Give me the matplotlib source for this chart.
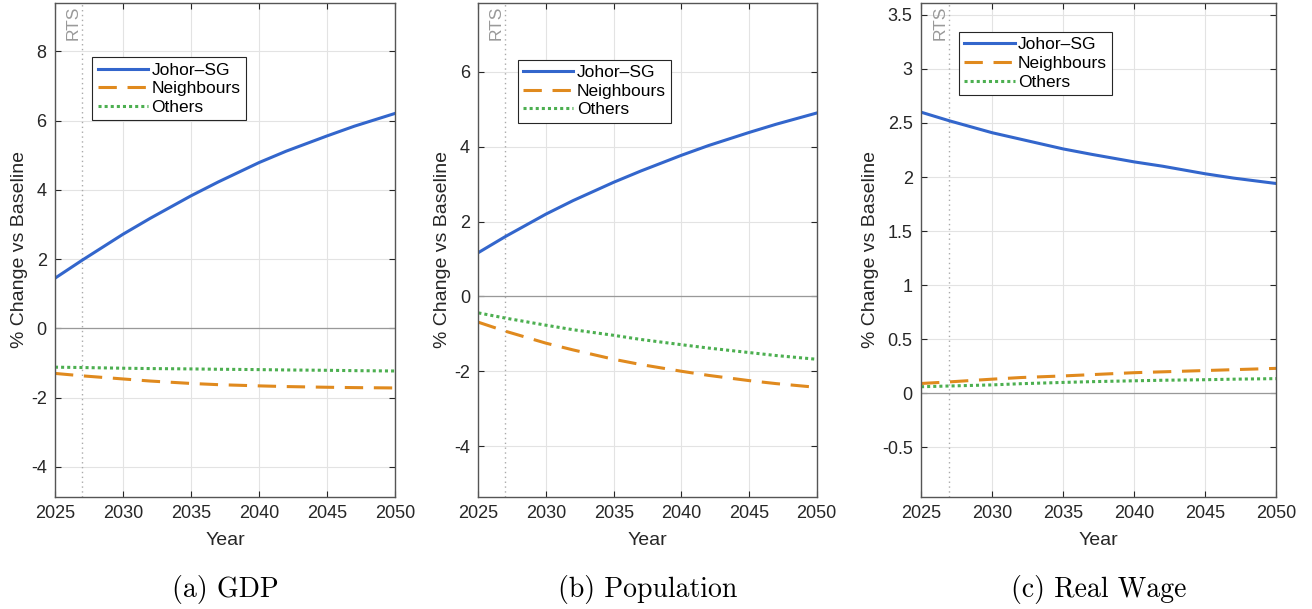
import matplotlib
matplotlib.use("Agg")
import matplotlib.pyplot as plt

plt.rcParams['font.family'] = ['Liberation Sans', 'DejaVu Sans']

years = [2025, 2027, 2030, 2032, 2035, 2037, 2040, 2042, 2045, 2047, 2050]
series_names = ["Johor\u2013SG", "Neighbours", "Others"]
rts_year = 2027

gdp_johor = [1.45, 1.97, 2.72, 3.18, 3.83, 4.23, 4.79, 5.12, 5.56, 5.84, 6.21]
gdp_neigh = [-1.30, -1.37, -1.46, -1.52, -1.59, -1.625, -1.66, -1.68, -1.70, -1.71, -1.72]
gdp_others = [-1.12, -1.13, -1.15, -1.16, -1.17, -1.18, -1.19, -1.20, -1.21, -1.22, -1.23]

pop_johor = [1.17, 1.60, 2.20, 2.56, 3.05, 3.35, 3.77, 4.03, 4.38, 4.60, 4.90]
pop_neigh = [-0.69, -0.93, -1.25, -1.43, -1.68, -1.82, -2.00, -2.11, -2.25, -2.33, -2.43]
pop_others = [-0.44, -0.58, -0.77, -0.89, -1.04, -1.15, -1.29, -1.38, -1.50, -1.58, -1.68]

wage_johor = [2.60, 2.52, 2.41, 2.35, 2.26, 2.21, 2.14, 2.10, 2.03, 1.99, 1.94]
wage_neigh = [0.09, 0.105, 0.13, 0.145, 0.16, 0.172, 0.19, 0.198, 0.21, 0.218, 0.23]
wage_others = [0.06, 0.067, 0.077, 0.088, 0.10, 0.107, 0.115, 0.12, 0.125, 0.13, 0.135]

xticks = [2025, 2030, 2035, 2040, 2045, 2050]

panels = [
    dict(data=[gdp_johor, gdp_neigh, gdp_others], ylim=(-4.87, 9.4),
         yticks=[-4, -2, 0, 2, 4, 6, 8], ytl=["-4", "-2", "0", "2", "4", "6", "8"],
         caption="(a) GDP", pos=[0.0419, 0.1839, 0.2592, 0.8112], leg=(0.11, 0.89)),
    dict(data=[pop_johor, pop_neigh, pop_others], ylim=(-5.36, 7.84),
         yticks=[-4, -2, 0, 2, 4, 6], ytl=["-4", "-2", "0", "2", "4", "6"],
         caption="(b) Population", pos=[0.3646, 0.1839, 0.2579, 0.8112], leg=(0.117, 0.885)),
    dict(data=[wage_johor, wage_neigh, wage_others], ylim=(-0.96, 3.61),
         yticks=[-0.5, 0, 0.5, 1, 1.5, 2, 2.5, 3, 3.5],
         ytl=["-0.5", "0", "0.5", "1", "1.5", "2", "2.5", "3", "3.5"],
         caption="(c) Real Wage", pos=[0.702, 0.1839, 0.2708, 0.8112], leg=(0.107, 0.941)),
]

colors = ["#3366CC", "#E08A1E", "#4CAF50"]
styles = [dict(linestyle="-"), dict(linestyle=(0, (6, 3.5))), dict(linestyle=(0, (1, 1)))]
dark = "#262626"

fig = plt.figure(figsize=(13.12, 6.09), dpi=100)

for p in panels:
    ax = fig.add_axes(p["pos"])
    ax.grid(True, color="#e3e3e3", linewidth=0.8)
    ax.set_axisbelow(True)
    ax.axhline(0, color="#999999", linewidth=0.9, zorder=1)
    ax.axvline(rts_year, color="#aaaaaa", linestyle=(0, (1, 2.5)), linewidth=1.0, zorder=1)
    for vals, name, c, st in zip(p["data"], series_names, colors, styles):
        ax.plot(years, vals, color=c, linewidth=2.2, label=name, **st)
    ax.set_xlim(2025, 2050)
    ax.set_ylim(*p["ylim"])
    ax.set_xticks(xticks)
    ax.set_yticks(p["yticks"])
    ax.set_yticklabels(p["ytl"])
    ax.tick_params(direction="in", top=True, right=True, length=4, labelsize=13,
                   colors=dark, pad=6)
    for s in ax.spines.values():
        s.set_color("#555555")
        s.set_linewidth(1.0)
    ax.set_xlabel("Year", fontsize=14, color=dark, labelpad=7)
    ax.set_ylabel("% Change vs Baseline", fontsize=14, color=dark, labelpad=2)
    ax.text(rts_year - 0.15, 0.995, "RTS", transform=ax.get_xaxis_transform(),
            rotation=90, ha="right", va="top", color="#999999", fontsize=12.5)
    leg = ax.legend(loc="upper left", bbox_to_anchor=p["leg"], fontsize=12.5,
                    frameon=True, fancybox=False, edgecolor=dark, framealpha=1,
                    handlelength=2.9, handletextpad=0.2, borderpad=0.3,
                    labelspacing=0.2, borderaxespad=0)
    leg.get_frame().set_linewidth(0.8)
    bb = p["pos"]
    fig.text(bb[0] + bb[2] / 2, 0.008, p["caption"], ha="center", va="bottom",
             fontsize=20, family="cmr10", color="black")

fig.savefig("out.png", dpi=100)
